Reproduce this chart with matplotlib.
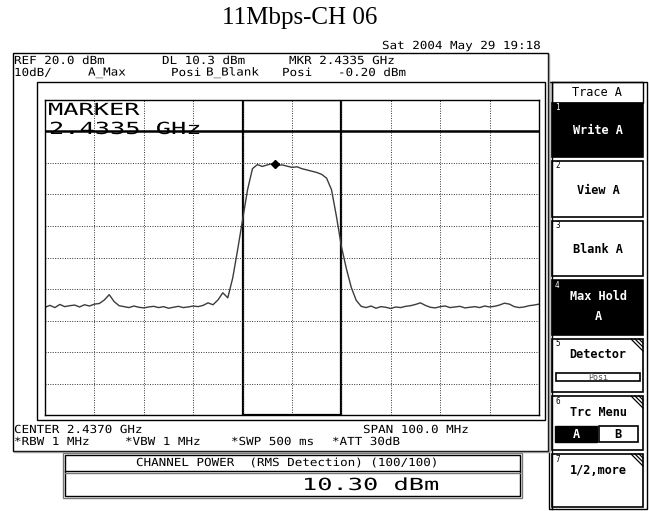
import numpy as np
import matplotlib
matplotlib.use("Agg")
import matplotlib.pyplot as plt
from matplotlib.patches import Rectangle
import matplotlib.patheffects as pe
from matplotlib.transforms import Affine2D

# analyzer settings
center_ghz = 2.437
span_ghz = 0.100
ref_dbm = 20.0
db_per_div = 10.0
dl_dbm = 10.3
mkr_ghz = 2.4335
mkr_dbm = -0.20
chan_lo_ghz = 2.427
chan_hi_ghz = 2.447

# trace A (max hold), one reading per MHz from the left edge of the span
trace_dbm = [
    -45.8, -45.2, -45.9, -44.9, -45.6, -45.3, -45.1, -45.7, -45.0, -45.4, -44.8, -44.6,
    -43.5, -41.8, -44.0, -45.3,
    -45.6, -45.9, -45.4, -45.8, -46.0, -45.7, -45.5, -45.9, -45.6, -46.1, -45.8, -45.5,
    -45.9, -45.7, -45.4, -45.6,
    -45.2, -44.4, -45.0, -43.5, -41.2, -42.8, -36.5, -27.5, -18.0, -8.5, -1.8, -0.5,
    -1.1, -0.6, -0.2, -0.8, -0.6, -1.0, -1.4, -1.2, -1.8, -2.2, -2.6, -3.0, -3.6,
    -4.8, -8.5, -17.0, -26.5, -33.5, -39.5, -43.6, -45.5,
    -45.9, -45.4, -46.1, -45.6, -45.8, -46.2, -45.7, -45.9, -45.5, -45.3, -44.9, -44.4,
    -45.2, -45.8, -46.0, -45.6, -45.4, -45.9, -45.7, -45.5, -46.0, -45.8, -45.6, -45.9,
    -45.4, -45.7, -45.5, -45.1, -44.5, -44.8, -45.6, -45.9, -45.7, -45.3, -45.1, -44.8,
]

softkey_title = "Trace A"
softkey_nums = ["1", "2", "3", "4", "5", "6", "7"]
softkey_labels = [["Write A"], ["View A"], ["Blank A"], ["Max Hold", "A"],
                  ["Detector"], ["Trc Menu"], ["1/2,more"]]
softkey_dark = [True, False, False, True, False, False, False]

W, H = 649, 511
MONO = "DejaVu Sans Mono"


class Wide(pe.AbstractPathEffect):
    # stretch glyphs sideways, like the analyzer's wide bitmap font
    def __init__(self, sx):
        super().__init__()
        self.sx = sx

    def draw_path(self, renderer, gc, tpath, affine, rgbFace=None):
        renderer.draw_path(gc, tpath, Affine2D().scale(self.sx, 1) + affine, rgbFace)


fig = plt.figure(figsize=(W / 100, H / 100), dpi=100)
bg = fig.add_axes([0, 0, 1, 1])
bg.set_xlim(0, W)
bg.set_ylim(H, 0)
bg.axis("off")


def box(x0, y0, x1, y1, **kw):
    kw.setdefault("fill", False)
    kw.setdefault("lw", 1.0)
    kw.setdefault("ec", "black")
    bg.add_patch(Rectangle((x0, y0), x1 - x0, y1 - y0, **kw))


def small(x, y, s):
    # left edge x, 7.6 px character pitch like the screen font
    bg.text(x, y, s, family=MONO, fontsize=8, va="center",
            path_effects=[Wide(1.13)])


# title
bg.text(300, 18, "11Mbps-CH 06", family="Liberation Serif", fontsize=18,
        ha="center", va="center")
small(382, 46, "Sat 2004 May 29 19:18")

# screen frames
box(13, 53, 548, 451)
bg.plot([14, 549, 549], [452, 452, 54], color="#999999", lw=1)
box(37, 82, 545, 420)

small(14, 61, "REF 20.0 dBm")
small(162, 61, "DL 10.3 dBm")
small(289, 61, "MKR 2.4335 GHz")
small(14, 73, "10dB/")
small(88, 73, "A_Max")
small(171, 73, "Posi")
small(206, 73, "B_Blank")
small(282, 73, "Posi")
small(338, 73, "-0.20 dBm")

small(14, 430, "CENTER 2.4370 GHz")
small(363, 430, "SPAN 100.0 MHz")
small(14, 442, "*RBW 1 MHz")
small(125, 442, "*VBW 1 MHz")
small(231, 442, "*SWP 500 ms")
small(332, 442, "*ATT 30dB")

# big marker readout
bg.text(48, 115, "MARKER", family=MONO, fontsize=12, va="baseline",
        path_effects=[Wide(1.52)])
bg.text(49, 134, "2.4335 GHz", family=MONO, fontsize=12, va="baseline",
        path_effects=[Wide(1.52)])

# channel power box
box(63, 453, 522, 498, ec="#777777")
box(65, 455, 520, 496)
bg.plot([65, 520], [471, 471], color="black", lw=1)
bg.plot([65, 520], [473, 473], color="#777777", lw=1)
small(136, 463, "CHANNEL POWER  (RMS Detection) (100/100)")
bg.text(302, 490, "10.30 dBm", family=MONO, fontsize=12, va="baseline",
        path_effects=[Wide(1.52)])

# softkey panel
box(549, 82, 647, 509)
bg.plot([552, 552], [82, 509], color="black", lw=1)
box(552, 82, 643, 103)
bg.text(597, 93, softkey_title, family=MONO, fontsize=8.6, ha="center", va="center")
key_tops = [103, 161, 221, 280, 339, 396, 454]
key_bots = [157, 217, 276, 335, 392, 450, 507]
for i in range(7):
    t, b = key_tops[i], key_bots[i]
    dark = softkey_dark[i]
    box(552, t, 643, b, fill=dark, fc="black", lw=1.2)
    fg = "white" if dark else "black"
    bg.text(555, t + 5, softkey_nums[i], family=MONO, fontsize=5.5, color=fg,
            va="center")
    labels = softkey_labels[i]
    if len(labels) == 2:
        ys = [t + 17, t + 37]
    elif i >= 4:
        ys = [t + 16]
    else:
        ys = [(t + b) / 2 + 1]
    for lab, yy in zip(labels, ys):
        bg.text(598, yy, lab, family=MONO, fontsize=8.6, fontweight="bold",
                color=fg, ha="center", va="center")
    if i >= 4:
        for d in (4, 8, 12):
            bg.plot([643 - 16 + d, 643], [t, t + 16 - d], color="black", lw=0.9)

box(556, 373, 640, 381, lw=1.2)
bg.text(598, 377, "Posi", family=MONO, fontsize=6, ha="center", va="center",
        color="#555555")
box(555, 426, 597, 442, fill=True, fc="black")
box(599, 426, 638, 442, lw=1.2)
bg.text(576, 434, "A", family=MONO, fontsize=8.6, fontweight="bold", color="white",
        ha="center", va="center")
bg.text(618, 434, "B", family=MONO, fontsize=8.6, fontweight="bold",
        ha="center", va="center")

# spectrum graticule
ax = fig.add_axes([45 / W, 1 - 415 / H, 494 / W, 315 / H])
ax.set_facecolor("none")
f_lo = center_ghz - span_ghz / 2
f_hi = center_ghz + span_ghz / 2
bottom_dbm = ref_dbm - 10 * db_per_div
ax.set_xlim(f_lo, f_hi)
ax.set_ylim(bottom_dbm, ref_dbm)
ax.set_xticks(np.linspace(f_lo, f_hi, 11))
ax.set_yticks(np.linspace(bottom_dbm, ref_dbm, 11))
ax.tick_params(length=0, labelbottom=False, labelleft=False)
ax.grid(True, color="#333333", ls=(0, (1, 1.5)), lw=0.7)
for s in ax.spines.values():
    s.set_linewidth(1.0)

freq = f_lo + np.arange(len(trace_dbm)) * (span_ghz / (len(trace_dbm) - 1))
ax.plot(freq, trace_dbm, color="#3c3c3c", lw=1.0)
ax.axhline(dl_dbm, color="black", lw=1.8)
ax.add_patch(Rectangle((chan_lo_ghz, bottom_dbm), chan_hi_ghz - chan_lo_ghz,
                       ref_dbm - bottom_dbm, fill=False, ec="black", lw=1.6))
ax.plot([mkr_ghz], [mkr_dbm], "D", color="black", ms=4.5)

fig.savefig("out.png", dpi=100)
